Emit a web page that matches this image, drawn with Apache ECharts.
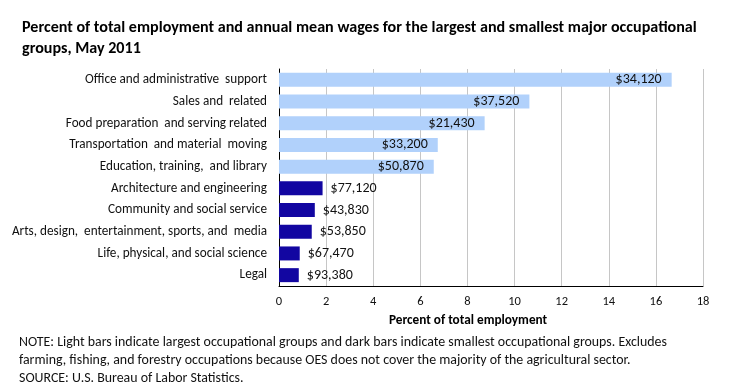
<!DOCTYPE html>
<html>
<head>
<meta charset="utf-8">
<script src="https://cdn.jsdelivr.net/npm/echarts@6/dist/echarts.min.js"></script>
<style>html,body{margin:0;padding:0;background:#fff}#c{width:740px;height:386px}</style>
</head>
<body>
<div id="c"></div>
<script>
const categories = [
  "Office and administrative  support",
  "Sales and  related",
  "Food preparation  and serving related",
  "Transportation  and material  moving",
  "Education, training,  and library",
  "Architecture and engineering",
  "Community and social service",
  "Arts, design,  entertainment, sports, and  media",
  "Life, physical, and social science",
  "Legal"
];
const percentValues = [16.67, 10.63, 8.73, 6.74, 6.57, 1.85, 1.52, 1.39, 0.88, 0.84];
const wageLabels = ["$34,120", "$37,520", "$21,430", "$33,200", "$50,870", "$77,120", "$43,830", "$53,850", "$67,470", "$93,380"];
const groupType = ["largest", "largest", "largest", "largest", "largest", "smallest", "smallest", "smallest", "smallest", "smallest"];
const xTicks = [0, 2, 4, 6, 8, 10, 12, 14, 16, 18];

const FONT = "Carlito, 'Noto Sans', sans-serif";
const LIGHT = "#b1d1fb";
const DARK = "#1206a1";

const chart = echarts.init(document.getElementById('c'), null, {renderer: 'canvas'});
const data = percentValues.map((v, i) => ({
  value: v,
  itemStyle: {color: groupType[i] === 'largest' ? LIGHT : DARK},
  label: groupType[i] === 'largest'
    ? {position: 'insideRight', distance: 10}
    : {position: 'right', distance: 8}
}));

chart.setOption({
  animation: false,
  textStyle: {fontFamily: FONT},
  title: {
    text: "Percent of total employment and annual mean wages for the largest and smallest major occupational\ngroups, May 2011",
    left: 17, top: 12,
    textStyle: {fontFamily: FONT, fontSize: 16.1, fontWeight: 'bold', color: '#000', lineHeight: 21}
  },
  grid: {left: 279, right: 37, top: 69, bottom: 100, containLabel: false},
  xAxis: {
    type: 'value', min: 0, max: 18, interval: 2,
    axisLine: {show: true, lineStyle: {color: '#000', width: 1}},
    axisTick: {show: false},
    splitLine: {show: true, lineStyle: {color: '#c6c6c6', width: 1}},
    axisLabel: {
      color: '#111', fontSize: 12.5, fontFamily: FONT, margin: 9,
      formatter: v => xTicks.indexOf(v) >= 0 ? String(v) : ''
    }
  },
  yAxis: {
    type: 'category', data: categories, inverse: true,
    axisLine: {show: true, lineStyle: {color: '#000', width: 1}},
    axisTick: {show: false},
    axisLabel: {color: '#111', fontSize: 13.2, fontFamily: FONT, margin: 12}
  },
  series: [{
    type: 'bar',
    data: data,
    barWidth: 14,
    label: {
      show: true, color: '#111', fontSize: 14, fontFamily: FONT,
      formatter: p => wageLabels[p.dataIndex]
    }
  }],
  graphic: [
    {type: 'text', left: 389, top: 314, style: {text: 'Percent of total employment', font: "bold 13.25px " + FONT, fill: '#000'}},
    {type: 'text', left: 19, top: 336, style: {text: 'NOTE: Light bars indicate largest occupational groups and dark bars indicate smallest occupational groups. Excludes', font: "13.9px " + FONT, fill: '#111'}},
    {type: 'text', left: 19, top: 354, style: {text: 'farming, fishing, and forestry occupations because OES does not cover the majority of the agricultural sector.', font: "13.9px " + FONT, fill: '#111'}},
    {type: 'text', left: 19, top: 372, style: {text: 'SOURCE: U.S. Bureau of Labor Statistics.', font: "13.9px " + FONT, fill: '#111'}}
  ]
});
</script>
</body>
</html>
